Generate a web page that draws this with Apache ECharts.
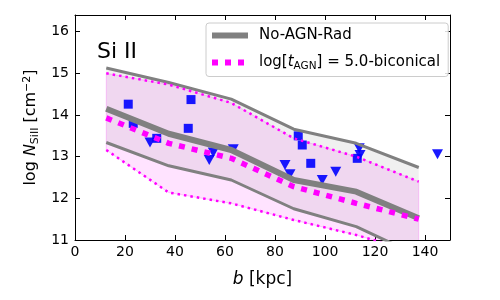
<!DOCTYPE html>
<html><head><meta charset="utf-8">
<script src="https://cdn.jsdelivr.net/npm/echarts@6/dist/echarts.min.js"></script>
<style>html,body{margin:0;padding:0;background:#fff}#c{width:500px;height:300px}</style>
</head><body><div id="c"></div>
<script>
// bin centres (kpc)
const binCenters = [12.5, 37.5, 62.5, 87.5, 112.5, 137.5];
// No-AGN-Rad: median and 16/84 percentile envelope
const noAgnMedian = [14.15, 13.55, 13.16, 12.44, 12.16, 11.52];
const noAgnUpper  = [15.13, 14.78, 14.38, 13.66, 13.32, 12.74];
const noAgnLower  = [13.34, 12.78, 12.44, 11.75, 11.32, 10.62];
// log[t_AGN]=5.0-biconical: median and envelope
const agnMedian = [13.93, 13.32, 12.96, 12.28, 11.88, 11.50];
const agnUpper  = [15.00, 14.73, 14.29, 13.44, 13.00, 12.40];
const agnLower  = [13.16, 12.14, 11.88, 11.48, 11.12, 10.68];
// observations: detections (squares)
const detB = [21.3, 23.3, 32.7, 46.4, 45.3, 89.3, 90.9, 94.3, 112.9];
const detN = [14.26, 13.80, 13.44, 14.37, 13.68, 13.50, 13.28, 12.84, 12.96];
// observations: upper limits (down triangles)
const limB = [30.0, 53.7, 55.3, 63.3, 84.0, 86.0, 98.9, 104.3, 113.7, 114.0, 145.0];
const limN = [13.34, 12.92, 13.10, 13.18, 12.80, 12.58, 12.44, 12.64, 13.20, 13.04, 13.06];
// tick labels
const xTickLabels = [0, 20, 40, 60, 80, 100, 120, 140];
const yTickLabels = [11, 12, 13, 14, 15, 16];

const FONT = 'DejaVu Sans';
const zip = (a, b) => a.map((v, i) => [v, b[i]]);

function band(lower, upper, fill, stroke, z) {
  return {
    type: 'custom', z: z, clip: true, silent: true,
    xAxisIndex: 0, yAxisIndex: 0,
    data: [[binCenters[0], upper[0]]],
    renderItem: function (params, api) {
      const pts = [];
      for (let i = 0; i < binCenters.length; i++) pts.push(api.coord([binCenters[i], upper[i]]));
      for (let i = binCenters.length - 1; i >= 0; i--) pts.push(api.coord([binCenters[i], lower[i]]));
      return { type: 'polygon', shape: { points: pts }, style: { fill: fill, stroke: stroke, lineWidth: 1 } };
    }
  };
}
function line(name, xs, ys, color, width, dash, z) {
  return {
    type: 'line', name: name, data: zip(xs, ys), symbol: 'none', z: z, clip: true,
    lineStyle: { color: color, width: width, type: dash || 'solid', cap: 'butt' },
    itemStyle: { color: color }, silent: true, animation: false
  };
}

const axisCommon = {
  axisLine: { show: true, onZero: false, lineStyle: { color: '#000', width: 1 } },
  axisTick: { show: true, inside: true, length: 5, lineStyle: { color: '#000', width: 1 } },
  splitLine: { show: false }
};

const chart = echarts.init(document.getElementById('c'), null, { renderer: 'canvas' });
chart.setOption({
  animation: false,
  backgroundColor: '#fff',
  grid: { left: 75, right: 50, top: 15, bottom: 60 },
  title: { text: 'Si II', left: 92, top: 36, textStyle: { fontFamily: FONT, fontSize: 22, fontWeight: 'normal', color: '#000' } },
  legend: {
    orient: 'vertical', left: 206, top: 23,
    data: [
      { name: 'No-AGN-Rad', lineStyle: { width: 6, color: '#808080', type: 'solid' } },
      { name: 'agn', lineStyle: { width: 6, color: '#ff00ff', type: [6, 7] } }
    ],
    backgroundColor: 'rgba(255,255,255,0.85)', borderColor: '#cccccc', borderWidth: 1, borderRadius: 3,
    padding: [5, 8, 5, 3], itemGap: 12, itemWidth: 36, itemHeight: 14,
    itemStyle: { opacity: 0 },
    textStyle: { fontFamily: FONT, fontSize: 15, color: '#000', padding: [0, 0, 0, 6],
      rich: {
        a: { fontFamily: FONT, fontSize: 15, color: '#000' },
        i: { fontFamily: FONT, fontSize: 15, fontStyle: 'italic', color: '#000' },
        s: { fontFamily: FONT, fontSize: 10.5, color: '#000', padding: [7, 0, 0, 0] }
      } },
    formatter: function (n) {
      return n === 'agn' ? '{a|log[}{i|t}{s|AGN}{a|] = 5.0-biconical}' : '{a|No-AGN-Rad}';
    }
  },
  xAxis: [
    Object.assign({}, axisCommon, {
      type: 'value', min: 0, max: 150, interval: 20, position: 'bottom',
      axisLabel: { color: '#000', fontFamily: FONT, fontSize: 14, margin: 5,
        formatter: v => xTickLabels.indexOf(v) >= 0 ? String(v) : '' },
      name: '{i|b} [kpc]', nameLocation: 'middle', nameGap: 31,
      nameTextStyle: { fontFamily: FONT, fontSize: 17, color: '#000',
        rich: { i: { fontFamily: FONT, fontSize: 17, fontStyle: 'italic', color: '#000' } } }
    }),
    Object.assign({}, axisCommon, {
      type: 'value', min: 0, max: 150, interval: 20, position: 'top', axisLabel: { show: false }
    })
  ],
  yAxis: [
    Object.assign({}, axisCommon, {
      type: 'value', min: 11, max: 16.4, interval: 1, position: 'left',
      axisLabel: { color: '#000', fontFamily: FONT, fontSize: 14, margin: 6,
        formatter: v => yTickLabels.indexOf(v) >= 0 ? String(v) : '' },
      name: '{a|log }{i|N}{s|SiII}{a| [cm}{p|−2}{a|]}', nameLocation: 'middle', nameGap: 33, nameRotate: 90,
      nameTextStyle: { fontFamily: FONT, fontSize: 16, color: '#000',
        rich: {
          a: { fontFamily: FONT, fontSize: 16, color: '#000' },
          i: { fontFamily: FONT, fontSize: 16, fontStyle: 'italic', color: '#000' },
          s: { fontFamily: FONT, fontSize: 11, color: '#000', padding: [7, 0, 0, 0] },
          p: { fontFamily: FONT, fontSize: 11, color: '#000', padding: [0, 0, 8, 0] }
        } }
    }),
    Object.assign({}, axisCommon, {
      type: 'value', min: 11, max: 16.4, interval: 1, position: 'right', axisLabel: { show: false }
    })
  ],
  series: [
    band(agnLower, agnUpper, 'rgba(255,0,255,0.11)', 'rgba(255,0,255,0.2)', 1),
    band(noAgnLower, noAgnUpper, 'rgba(128,128,128,0.12)', 'rgba(128,128,128,0)', 2),
    { type: 'scatter', name: 'det', data: zip(detB, detN), symbol: 'rect', symbolSize: 9, z: 3,
      itemStyle: { color: '#0000ff', opacity: 0.9 }, silent: true },
    { type: 'scatter', name: 'lim', data: zip(limB, limN), symbol: 'triangle', symbolRotate: 180, symbolSize: [11, 10], z: 3,
      itemStyle: { color: '#0000ff', opacity: 0.9 }, silent: true },
    line('nu', binCenters, noAgnUpper, '#808080', 3, 'solid', 4),
    line('nl', binCenters, noAgnLower, '#808080', 3, 'solid', 4),
    line('No-AGN-Rad', binCenters, noAgnMedian, '#808080', 6, 'solid', 5),
    line('au', binCenters, agnUpper, '#ff00ff', 2.5, [2.5, 4], 6),
    line('al', binCenters, agnLower, '#ff00ff', 2.5, [2.5, 4], 6),
    line('agn', binCenters, agnMedian, '#ff00ff', 5.5, [6, 7], 7)
  ]
});
</script></body></html>
